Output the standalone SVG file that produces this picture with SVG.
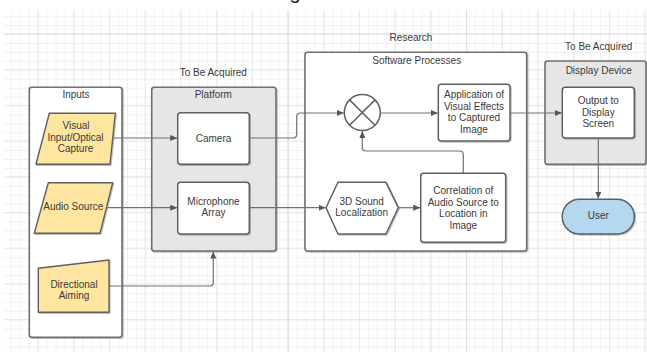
<svg xmlns="http://www.w3.org/2000/svg" width="647" height="352" viewBox="0 0 647 352">
  <defs>
    <pattern id="gridMinor" patternUnits="userSpaceOnUse" x="2" y="7.3" width="8.925" height="8.925">
      <rect x="0" y="0" width="8.925" height="1" fill="#f1f1f1"/>
      <rect x="0" y="0" width="1" height="8.925" fill="#f1f1f1"/>
    </pattern>
    <pattern id="gridMajor" patternUnits="userSpaceOnUse" x="2" y="-2.2" width="35.7" height="35.7">
      <rect x="0" y="0" width="35.7" height="1" fill="#e8e8e8"/>
      <rect x="0" y="0" width="1" height="35.7" fill="#e8e8e8"/>
    </pattern>
    <clipPath id="gridArea">
      <rect x="4" y="10" width="643" height="342"/>
    </clipPath>
    <marker id="arrow" markerUnits="userSpaceOnUse" markerWidth="8" markerHeight="8" refX="7" refY="3" orient="auto">
      <path d="M0,0 L7,3 L0,6 z" fill="#555"/>
    </marker>
    <filter id="shadow" x="-5%" y="-5%" width="115%" height="115%">
      <feDropShadow dx="1" dy="1" stdDeviation="0.5" flood-color="#000" flood-opacity="0.25"/>
    </filter>
  </defs>
  <style>
    text { font-family: "Liberation Sans", Arial, sans-serif; font-size: 10px; fill: #3a3a3a; text-anchor: middle; }
    .container { stroke: #6e6e6e; stroke-width: 1.6; }
    .box { fill: #ffffff; stroke: #5f5f5f; stroke-width: 1.5; }
    .input { fill: #fee6a0; stroke: #5f5f5f; stroke-width: 1.4; stroke-linejoin: round; }
    .gray { fill: #e6e6e6; }
    .white { fill: #ffffff; }
    .conn { fill: none; stroke: #707070; stroke-width: 1.2; }
  </style>

  <!-- background grid -->
  <rect width="647" height="352" fill="#ffffff"/>
  <g clip-path="url(#gridArea)">
    <rect width="647" height="352" fill="url(#gridMinor)"/>
    <rect width="647" height="352" fill="url(#gridMajor)"/>
    <rect x="287.6" y="10" width="1" height="342" fill="#dedede"/>
    <rect x="466" y="10" width="1" height="342" fill="#dedede"/>
    <rect x="4" y="33.5" width="643" height="1" fill="#e0e0e0"/>
  </g>

  <!-- heading descender cut by the top edge -->
  <text x="295" y="-1" style="font-size:20px;fill:#222">g</text>

  <!-- Inputs container -->
  <g id="inputs">
    <rect class="container white" x="29.3" y="87.3" width="92.7" height="250" rx="2.5" filter="url(#shadow)"/>
    <text x="76" y="97.5">Inputs</text>
  </g>

  <!-- Platform container -->
  <g id="platform">
    <text x="213.3" y="76">To Be Acquired</text>
    <rect class="container gray" x="151.7" y="87.3" width="124.3" height="163.7" rx="2.5" filter="url(#shadow)"/>
    <text x="213.3" y="97.5">Platform</text>
  </g>

  <!-- Software Processes container -->
  <g id="software">
    <text x="411" y="41">Research</text>
    <rect class="container white" x="305" y="52.3" width="221.7" height="198.7" rx="2.5" filter="url(#shadow)"/>
    <text x="416.7" y="63.5">Software Processes</text>
  </g>

  <!-- Display Device container -->
  <g id="display">
    <text x="598.7" y="50">To Be Acquired</text>
    <rect class="container gray" x="545" y="61" width="101" height="103.3" rx="2.5" filter="url(#shadow)"/>
    <text x="598.7" y="74">Display Device</text>
  </g>

  <!-- input sources -->
  <g id="visual-input">
    <polygon class="input" points="49.3,113.3 115.3,113.3 110,164.3 36,164.3" filter="url(#shadow)"/>
    <text x="76" y="128.8">Visual</text>
    <text x="75.5" y="140.5">Input/Optical</text>
    <text x="75.5" y="152.2">Capture</text>
  </g>
  <g id="audio-source">
    <polygon class="input" points="48.3,182.7 112.7,182.7 100,233.3 34.3,233.3" filter="url(#shadow)"/>
    <text x="73.3" y="210.2">Audio Source</text>
  </g>
  <g id="directional-aiming">
    <polygon class="input" points="38.3,268.3 109,260 109,312.3 38.3,312.3" filter="url(#shadow)"/>
    <text x="74" y="287.8">Directional</text>
    <text x="74" y="299.2">Aiming</text>
  </g>

  <!-- platform hardware -->
  <g id="camera">
    <rect class="box" x="177.7" y="112.7" width="71.6" height="51.6" rx="3" filter="url(#shadow)"/>
    <text x="213.5" y="141.5">Camera</text>
  </g>
  <g id="microphone-array">
    <rect class="box" x="177.7" y="182.3" width="71.6" height="51.7" rx="3" filter="url(#shadow)"/>
    <text x="213.5" y="204.5">Microphone</text>
    <text x="213.5" y="216.2">Array</text>
  </g>

  <!-- software processes -->
  <g id="mixer">
    <circle cx="362.3" cy="112.6" r="18" fill="#ffffff" stroke="#5f5f5f" stroke-width="1.5"/>
    <path d="M349.6,99.9 L375,125.3 M375,99.9 L349.6,125.3" stroke="#5f5f5f" stroke-width="1.5"/>
  </g>
  <g id="visual-effects">
    <rect class="box" x="438.3" y="84.3" width="71.7" height="56.7" rx="3" filter="url(#shadow)"/>
    <text x="474" y="97.8">Application of</text>
    <text x="474" y="109.5">Visual Effects</text>
    <text x="474" y="121.2">to Captured</text>
    <text x="474" y="132.8">Image</text>
  </g>
  <g id="sound-localization">
    <polygon points="326,207.7 338,182.3 386,182.3 398.3,207.7 386,234 338,234" fill="#ffffff" stroke="#5f5f5f" stroke-width="1.5" stroke-linejoin="round" filter="url(#shadow)"/>
    <text x="361.7" y="204.5">3D Sound</text>
    <text x="361.7" y="215.8">Localization</text>
  </g>
  <g id="correlation">
    <rect class="box" x="420.7" y="173.3" width="85" height="69" rx="3" filter="url(#shadow)"/>
    <text x="463.3" y="194.2">Correlation of</text>
    <text x="463.3" y="205.8">Audio Source to</text>
    <text x="463.3" y="217.2">Location in</text>
    <text x="463.3" y="228.8">Image</text>
  </g>

  <!-- display device output -->
  <g id="display-output">
    <rect class="box" x="562.3" y="87.3" width="72" height="50.7" rx="3" filter="url(#shadow)"/>
    <text x="598.3" y="103.8">Output to</text>
    <text x="598.3" y="115.5">Display</text>
    <text x="598.3" y="127.2">Screen</text>
  </g>
  <g id="user">
    <rect x="562.3" y="199.3" width="72" height="34.7" rx="17" fill="#b5d7f0" stroke="#5f5f5f" stroke-width="1.5" filter="url(#shadow)"/>
    <text x="598.3" y="219.2">User</text>
  </g>

  <!-- connectors -->
  <g id="connectors">
    <path class="conn" d="M112.7,138 H177.2" marker-end="url(#arrow)"/>
    <path class="conn" d="M249.3,138 H293 Q296.7,138 296.7,134.3 V116.7 Q296.7,113 300.4,113 H343.8" marker-end="url(#arrow)"/>
    <path class="conn" d="M106.4,207.7 H177.2" marker-end="url(#arrow)"/>
    <path class="conn" d="M109,286 H209.6 Q213.3,286 213.3,282.3 V251.6" marker-end="url(#arrow)"/>
    <path class="conn" d="M249.3,207.7 H325.6" marker-end="url(#arrow)"/>
    <path class="conn" d="M398.3,207.7 H420.2" marker-end="url(#arrow)"/>
    <path class="conn" d="M463.3,173.3 V154.7 Q463.3,151 459.6,151 H366 Q362.3,151 362.3,147.3 V131" marker-end="url(#arrow)"/>
    <path class="conn" d="M380.3,113 H437.8" marker-end="url(#arrow)"/>
    <path class="conn" d="M510,113 H561.8" marker-end="url(#arrow)"/>
    <path class="conn" d="M598.3,138 V198.8" marker-end="url(#arrow)"/>
  </g>
</svg>
